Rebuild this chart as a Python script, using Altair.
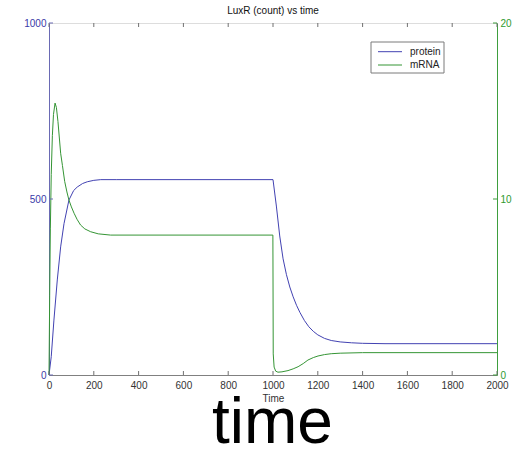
import altair as alt
import pandas as pd

# ---- data ----
series = ["protein", "mRNA"]
series_colors = ["#4242b2", "#359535"]

protein_t = [0, 10, 22, 37, 52, 67, 89, 110, 126, 150, 171, 200, 231, 300, 1000,
             1015, 1030, 1045, 1060, 1075, 1090, 1105, 1120, 1140, 1160, 1180, 1200,
             1230, 1260, 1300, 1350, 1400, 1500, 2000]
protein_v = [0, 52, 156, 270, 364, 430, 497, 524, 534, 544, 549, 553, 555, 555, 555,
             480, 395, 330, 285, 250, 222, 198, 178, 155, 137, 124, 114,
             104, 98, 94, 91.5, 90, 89, 89]

mrna_t = [0, 3, 6, 10, 15, 20, 27, 33, 40, 52, 60, 70, 80, 89, 100, 112, 125, 141,
          160, 186, 220, 275, 999.5, 1001, 1005, 1012, 1022, 1040, 1067, 1090, 1112,
          1135, 1156, 1180, 1201, 1230, 1260, 1300, 1400, 2000]
mrna_v = [0, 4.5, 8.3, 11.4, 13.6, 14.8, 15.45, 15.2, 14.4, 12.6, 11.9, 11.0, 10.4,
          9.94, 9.55, 9.19, 8.85, 8.52, 8.3, 8.14, 8.02, 7.95, 7.95, 1.2, 0.45, 0.22,
          0.16, 0.18, 0.25, 0.35, 0.47, 0.65, 0.85, 0.99, 1.08, 1.16, 1.21, 1.24,
          1.27, 1.27]

x_ticks = [0, 200, 400, 600, 800, 1000, 1200, 1400, 1600, 1800, 2000]
left_ticks = [0, 500, 1000]
right_ticks = [0, 10, 20]
x_domain = [0, 2000]
left_domain = [0, 1000]
right_domain = [0, 20]

title_text = "LuxR (count) vs time"
x_title = "Time"
caption = ["time"]

# ---- layout ----
W, H = 448, 352
TICK = 4
FONT = "Liberation Sans"
# legend box (plot-area pixels)
LEG_X0, LEG_X1, LEG_Y0, LEG_Y1 = 322, 395, 19, 50
LEG_ROWS = [28.7, 42]
LEG_SYM_X0, LEG_SYM_X1, LEG_LABEL_X = 329, 353, 361

prot_df = pd.DataFrame({"t": protein_t, "v": protein_v, "s": series[0]})
mrna_df = pd.DataFrame({"t": mrna_t, "v": mrna_v, "s": series[1]})
legend_df = pd.DataFrame({"s": series})

x_scale = alt.Scale(domain=x_domain, nice=False, zero=False)
color_scale = alt.Scale(domain=series, range=series_colors)

x_axis = alt.Axis(
    values=x_ticks, ticks=False, labelPadding=5, labelFontSize=10, labelFont=FONT,
    labelColor="#333333", labelFlush=False, labelOverlap=False, format="d",
    domainColor="#808080", title=x_title, titleFontSize=10, titleFont=FONT,
    titleFontWeight="normal", titleColor="#333333", titlePadding=3, grid=False,
)
X = alt.X("t:Q", scale=x_scale, axis=x_axis)

protein = alt.Chart(prot_df).mark_line(strokeWidth=1).encode(
    x=X,
    y=alt.Y("v:Q", scale=alt.Scale(domain=left_domain, nice=False),
            axis=alt.Axis(orient="left", values=left_ticks, ticks=False, format="d",
                          labelPadding=3, labelFontSize=10, labelFont=FONT,
                          labelColor="#3a3aa8", domainColor="#6a6ab4",
                          title=None, grid=False)),
    color=alt.Color("s:N", scale=color_scale, legend=None),
)

mrna = alt.Chart(mrna_df).mark_line(strokeWidth=1).encode(
    x=X,
    y=alt.Y("v:Q", scale=alt.Scale(domain=right_domain, nice=False),
            axis=alt.Axis(orient="right", values=right_ticks, ticks=False, format="d",
                          labelPadding=3, labelFontSize=10, labelFont=FONT,
                          labelColor="#2f9a2f", domainColor="#3e9e3e",
                          title=None, grid=False)),
    color=alt.Color("s:N", scale=color_scale, legend=None),
)

xt_df = pd.DataFrame({"t": x_ticks})
bottom_ticks = alt.Chart(xt_df).mark_rule(color="#707070", strokeWidth=1).encode(
    x=X, y=alt.value(H), y2=alt.value(H - TICK),
)
top_ticks = alt.Chart(xt_df).mark_rule(color="#707070", strokeWidth=1).encode(
    x=X, y=alt.value(0), y2=alt.value(TICK),
)
left_tick_marks = alt.Chart(pd.DataFrame({"v": left_ticks})).mark_rule(
    color="#6a6ab4", strokeWidth=1).encode(
    y=alt.Y("v:Q", scale=alt.Scale(domain=left_domain, nice=False), axis=None),
    x=alt.value(0), x2=alt.value(TICK),
)
right_tick_marks = alt.Chart(pd.DataFrame({"v": right_ticks})).mark_rule(
    color="#3e9e3e", strokeWidth=1).encode(
    y=alt.Y("v:Q", scale=alt.Scale(domain=right_domain, nice=False), axis=None),
    x=alt.value(W), x2=alt.value(W - TICK),
)

# ---- legend (box, line samples, labels) ----
legend_box = alt.Chart(pd.DataFrame({"k": [0]})).mark_rect(
    fill="white", stroke="#7a7a7a", strokeWidth=1
).encode(x=alt.value(LEG_X0), x2=alt.value(LEG_X1),
         y=alt.value(LEG_Y0), y2=alt.value(LEG_Y1))

leg_y = alt.Y("s:N", scale=alt.Scale(type="point", domain=series, range=LEG_ROWS,
                                     padding=0), axis=None)
legend_lines = alt.Chart(legend_df).mark_rule(strokeWidth=1).encode(
    y=leg_y, x=alt.value(LEG_SYM_X0), x2=alt.value(LEG_SYM_X1),
    color=alt.Color("s:N", scale=color_scale, legend=None),
)
legend_labels = alt.Chart(legend_df).mark_text(
    fontSize=10, font=FONT, color="#222222", align="left", baseline="middle"
).encode(y=leg_y, x=alt.value(LEG_LABEL_X), text="s:N")

big_text = alt.Chart(pd.DataFrame({"c": caption})).mark_text(
    fontSize=64, font=FONT, color="black", align="center", baseline="alphabetic"
).encode(text="c:N", x=alt.value(223.5), y=alt.value(420))

chart = alt.layer(
    protein, mrna, bottom_ticks, top_ticks, left_tick_marks, right_tick_marks,
    legend_box, legend_lines, legend_labels, big_text
).resolve_scale(
    y="independent"
).properties(
    width=W, height=H,
    padding={"left": 49, "top": 23, "right": 18, "bottom": 75},
    autosize=alt.AutoSizeParams(type="none"),
    title=alt.TitleParams(title_text, fontSize=10, fontWeight="normal", font=FONT,
                          color="#111111", anchor="middle", offset=2),
).configure_view(
    stroke="#808080", strokeWidth=1
).configure(background="white")

chart.save("out.html", embed_options={"renderer": "svg", "actions": False})
